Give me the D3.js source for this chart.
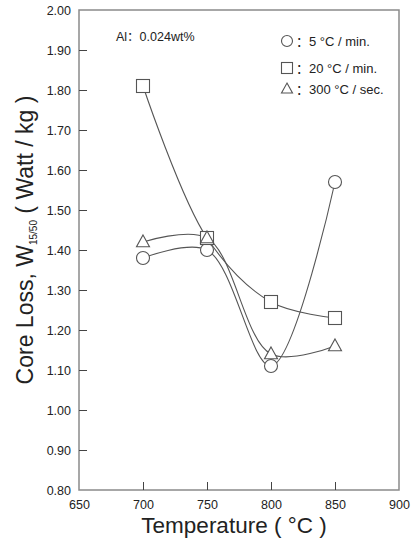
<!DOCTYPE html>
<html>
<head>
<meta charset="utf-8">
<script src="https://cdn.jsdelivr.net/npm/d3@7"></script>
<style>
  html, body { margin: 0; padding: 0; background: #fff; }
  svg text { font-family: "Liberation Sans", Arial, "Noto Sans CJK SC", sans-serif; fill: #222; }
</style>
</head>
<body>
<svg id="chart" width="411" height="542"></svg>
<script>
// Annealing temperature (°C)
const temperatures = [700, 750, 800, 850];
// Core loss W15/50 (Watt/kg) for each heating rate
const rate5CPerMin = [1.38, 1.40, 1.11, 1.57];
const rate20CPerMin = [1.81, 1.43, 1.27, 1.23];
const rate300CPerSec = [1.42, 1.43, 1.14, 1.16];

const xTicks = [650, 700, 750, 800, 850, 900];
const yTicks = [0.80, 0.90, 1.00, 1.10, 1.20, 1.30, 1.40, 1.50, 1.60, 1.70, 1.80, 1.90, 2.00];

const seriesNames = ["：5 °C / min.", "：20 °C / min.", "：300 °C / sec."];
const seriesShapes = ["circle", "square", "triangle"];
const annotation = "Al：0.024wt%";

const svg = d3.select("#chart");
const margin = { left: 79, right: 12, top: 10, bottom: 52 };
const W = 411, H = 542;

const x = d3.scaleLinear().domain([650, 900]).range([margin.left, W - margin.right]);
const y = d3.scaleLinear().domain([0.80, 2.00]).range([H - margin.bottom, margin.top]);

const frameColor = "#8a8a8a";
const lineColor = "#555";
const markColor = "#555";

// Frame
svg.append("rect")
  .attr("x", x(650)).attr("y", y(2.0))
  .attr("width", x(900) - x(650)).attr("height", y(0.8) - y(2.0))
  .attr("fill", "none").attr("stroke", frameColor).attr("stroke-width", 1.5);

// Axes with inward ticks
const xAxis = d3.axisBottom(x).tickValues(xTicks).tickSize(-8).tickPadding(10).tickFormat(d3.format("d"));
const gx = svg.append("g").attr("transform", `translate(0,${y(0.8)})`).call(xAxis);
gx.select(".domain").remove();
gx.selectAll(".tick line").attr("stroke", "#444")
  .attr("display", d => (d === 650 || d === 900) ? "none" : null);
gx.selectAll(".tick text").attr("font-size", 12.5).attr("fill", "#222");

const yAxis = d3.axisLeft(y).tickValues(yTicks).tickSize(-8).tickPadding(8).tickFormat(d3.format(".2f"));
const gy = svg.append("g").attr("transform", `translate(${x(650)},0)`).call(yAxis);
gy.select(".domain").remove();
gy.selectAll(".tick line").attr("stroke", "#444")
  .attr("display", d => (Math.abs(d - 0.8) < 1e-6 || Math.abs(d - 2.0) < 1e-6) ? "none" : null);
gy.selectAll(".tick text").attr("font-size", 12.5).attr("fill", "#222");

// Axis titles
svg.append("text")
  .attr("x", (x(650) + x(900)) / 2 - 5).attr("y", 533)
  .attr("text-anchor", "middle").attr("font-size", 22.5)
  .text("Temperature ( °C )");

const yt = svg.append("text")
  .attr("transform", `translate(33,240) rotate(-90)`)
  .attr("text-anchor", "middle").attr("font-size", 23);
yt.append("tspan").text("Core Loss, W");
yt.append("tspan").attr("font-size", 10).attr("dy", 4).text("15/50");
yt.append("tspan").attr("dy", -4).text(" ( Watt / kg )");

// Annotation
svg.append("text").attr("x", 116).attr("y", 41).attr("font-size", 12.5).text(annotation);

// Marker drawing
function drawMarker(g, shape, cx, cy, s) {
  if (shape === "circle") {
    g.append("circle").attr("cx", cx).attr("cy", cy).attr("r", s / 2);
  } else if (shape === "square") {
    g.append("rect").attr("x", cx - s / 2).attr("y", cy - s / 2).attr("width", s).attr("height", s);
  } else {
    const h = s * 0.9;
    g.append("path").attr("d",
      `M${cx},${cy - h * 0.6}L${cx + s / 2},${cy + h * 0.4}L${cx - s / 2},${cy + h * 0.4}Z`);
  }
}

const seriesValues = [rate5CPerMin, rate20CPerMin, rate300CPerSec];
const line = d3.line().x(d => x(d[0])).y(d => y(d[1])).curve(d3.curveCatmullRom.alpha(0.5));

// Curves
seriesValues.forEach(vals => {
  const pts = temperatures.map((t, i) => [t, vals[i]]);
  svg.append("path").attr("d", line(pts))
    .attr("fill", "none").attr("stroke", lineColor).attr("stroke-width", 1.1);
});

// Markers on top
seriesValues.forEach((vals, k) => {
  const g = svg.append("g").attr("fill", "#fff").attr("stroke", markColor).attr("stroke-width", 1.1);
  temperatures.forEach((t, i) => drawMarker(g, seriesShapes[k], x(t), y(vals[i]), 13));
});

// Legend
const legendY = [41, 68, 89];
seriesNames.forEach((name, k) => {
  const g = svg.append("g").attr("fill", "#fff").attr("stroke", markColor).attr("stroke-width", 1.1);
  drawMarker(g, seriesShapes[k], 287, legendY[k], 11);
  svg.append("text").attr("x", 296).attr("y", legendY[k] + 4.5).attr("font-size", 13).text(name);
});
</script>
</body>
</html>
